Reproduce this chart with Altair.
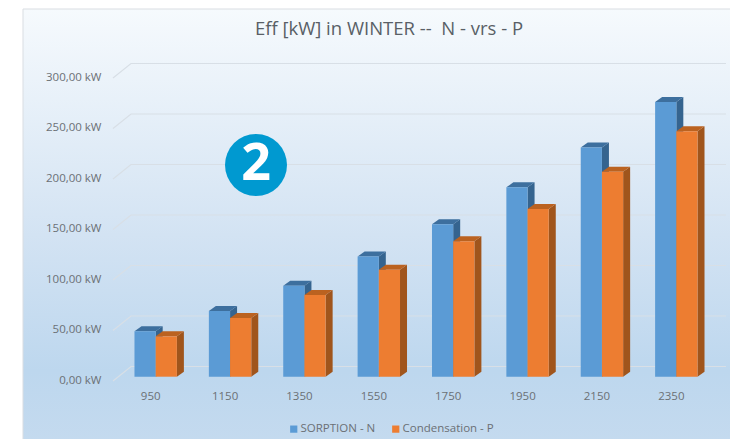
import altair as alt
import pandas as pd

categories = [950, 1150, 1350, 1550, 1750, 1950, 2150, 2350]
sorption = [45, 65, 90, 119, 151, 187.5, 227, 272]
condensation = [40, 58, 81, 106, 134, 166, 203, 243]
y_ticks = [0, 50, 100, 150, 200, 250, 300]
series_names = ["SORPTION - N", "Condensation - P"]
title_text = ["Eff [kW] in WINTER --\u00a0\u00a0N - vrs - P"]

FONT = "Open Sans"
TXT = "#6b7075"
W, H = 595, 303
XU = 1600 / W   # data units per pixel on x
YU = 300 / H    # data units per pixel on y

def gx(px): return px * XU
def gy(px): return px * YU

# front faces, raised from the front plane of the floor
FX, FY = 5.5, 4.3
DX, DY = 7, 5
BW = 21.2

def faces(values, left_side):
    fronts, sides, tops = [], [], []
    for c, v in zip(categories, values):
        x0 = c + gx(FX) + (-gx(BW) if left_side else 0)
        x1 = x0 + gx(BW)
        b = gy(FY)
        t = v + gy(FY)
        fronts.append(dict(x=x0, x2=x1, y=t, y2=b))
        dx, dy = gx(DX), gy(DY)
        sides += [dict(id=c, x=x1, y=t, y2=b), dict(id=c, x=x1 + dx, y=t + dy, y2=b + dy)]
        tops += [dict(id=c, x=x0, y=t, y2=t), dict(id=c, x=x0 + dx, y=t + dy, y2=t),
                 dict(id=c, x=x1, y=t + dy, y2=t), dict(id=c, x=x1 + dx, y=t + dy, y2=t + dy)]
    return pd.DataFrame(fronts), pd.DataFrame(sides), pd.DataFrame(tops)

x_scale = alt.Scale(domain=[850, 2450], nice=False, zero=False)
y_scale = alt.Scale(domain=[0, 300], nice=False, zero=True)
X = alt.X("x:Q", scale=x_scale, title=None,
          axis=alt.Axis(values=categories, domain=False, ticks=False, grid=False, labelPadding=9,
                        labelFont=FONT, labelFontSize=11.5, labelColor=TXT, format="d", zindex=1,
                        labelFlush=False))
Y = alt.Y("y:Q", scale=y_scale, title=None,
          axis=alt.Axis(values=y_ticks, domain=False, ticks=False, grid=False, labelPadding=12,
                        labelFont=FONT, labelFontSize=11.5, labelColor=TXT, zindex=1, labelOffset=-1,
                        labelExpr="replace(format(datum.value,'.2f'),'.',',')+' kW'"))

# Background panel
bg = alt.Chart(pd.DataFrame({"a": [0]})).mark_rect(
    fill=alt.Gradient(gradient="linear", x1=0, x2=0, y1=0, y2=1, stops=[
        alt.GradientStop(color="#f6fafd", offset=0),
        alt.GradientStop(color="#d3e3f3", offset=0.5),
        alt.GradientStop(color="#bdd7ee", offset=0.8),
        alt.GradientStop(color="#c6dbef", offset=1)]),
    stroke="#d9dde2", strokeWidth=1
).encode(x=alt.value(-90), x2=alt.value(W + 40), y=alt.value(-69), y2=alt.value(H + 80))

# Gridlines: front-left, back-left, back-right
grid_rows = []
for t in y_ticks:
    grid_rows += [dict(t=t, x=850, y=t), dict(t=t, x=850 + gx(18), y=t + gy(14.5)),
                  dict(t=t, x=2450 + gx(18), y=t + gy(14.5))]
grid = alt.Chart(pd.DataFrame(grid_rows)).mark_line(color="#d8dfe6", strokeWidth=1.2, clip=False).encode(
    x=X, y=Y, detail="t:N")

def extr(df, color):
    return alt.Chart(df).mark_area(color=color, clip=False).encode(
        x=alt.X("x:Q", scale=x_scale), y=alt.Y("y:Q", scale=y_scale), y2="y2:Q", detail="id:N")

color = alt.Color("s:N", scale=alt.Scale(domain=series_names, range=["#5b9bd5", "#ed7d31"]),
                  legend=alt.Legend(orient="none", legendX=175, legendY=345, direction="horizontal",
                                    title=None, symbolType="square", symbolSize=52, labelFont=FONT,
                                    labelFontSize=11.5, labelColor=TXT, labelOffset=1, columnPadding=14,
                                    symbolStrokeWidth=0))

layers = [bg, grid]
for vals, left, name, cs, ct in [(sorption, True, series_names[0], "#35648f", "#3d6f9e"),
                                 (condensation, False, series_names[1], "#a0551c", "#bb6220")]:
    f, s, t = faces(vals, left)
    f["s"] = name
    layers += [extr(s, cs), extr(t, ct),
               alt.Chart(f).mark_bar(clip=False).encode(
                   x=alt.X("x:Q", scale=x_scale), x2="x2:Q",
                   y=alt.Y("y:Q", scale=y_scale), y2="y2:Q", color=color)]

badge = alt.Chart(pd.DataFrame({"a": [0]})).mark_point(
    filled=True, shape="circle", size=3844, color="#0099d0", opacity=1
).encode(x=alt.value(143), y=alt.value(87))
badge_t = alt.Chart(pd.DataFrame({"a": ["2"]})).mark_text(
    font="Open Sans", fontSize=52, fontWeight="bold", color="white", baseline="middle", align="center"
).encode(x=alt.value(143), y=alt.value(86), text="a:N")
title_mark = alt.Chart(pd.DataFrame({"a": title_text})).mark_text(
    font=FONT, fontSize=18.5, color="#595f66", baseline="middle", align="center"
).encode(x=alt.value(276), y=alt.value(-49), text="a:N")

chart = alt.layer(*layers, badge, badge_t, title_mark).properties(
    width=W, height=H,
    padding={"left": 105, "top": 70, "right": 22, "bottom": 58},
    autosize=alt.AutoSizeParams(type="none"),
    background="white",
).configure_view(stroke=None)

chart.save("out.html", embed_options={"renderer": "svg", "actions": False})
